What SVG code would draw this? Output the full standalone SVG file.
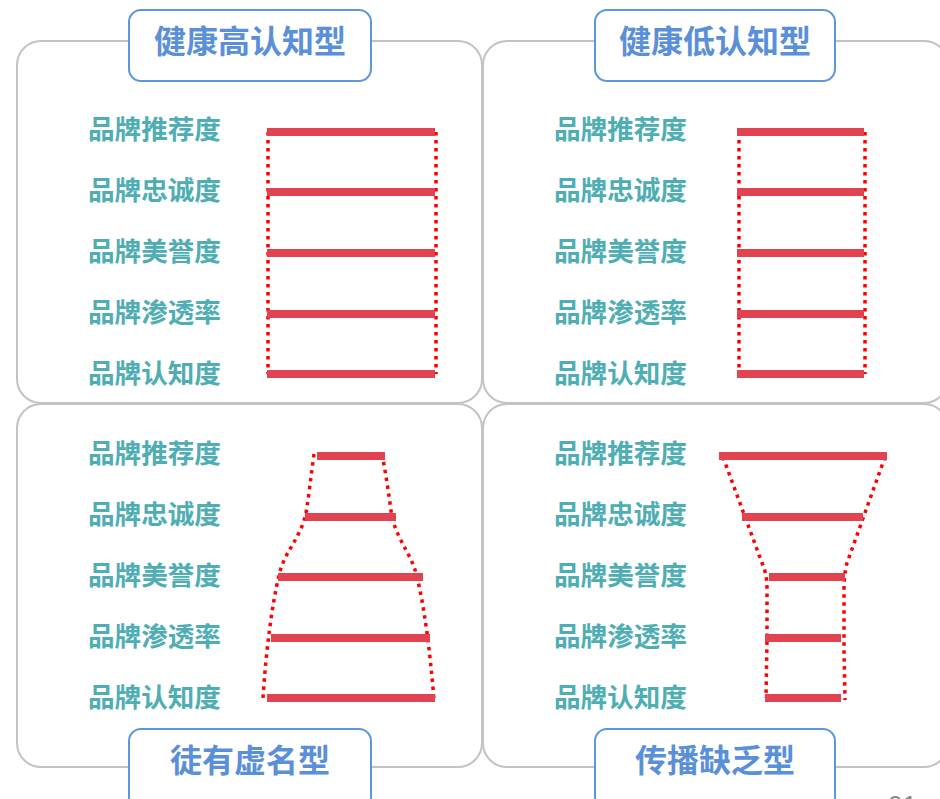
<svg xmlns="http://www.w3.org/2000/svg" width="940" height="799" viewBox="0 0 940 799">
<style>
.panel{fill:#fff;stroke:#c3c3c3;stroke-width:2}
.tbox{fill:#fff;stroke:#5b97dc;stroke-width:2}
.title{font-family:"Noto Sans CJK SC","Noto Sans",sans-serif;font-weight:bold;font-size:32px;fill:#5a8fd9;text-anchor:middle}
.lbl{font-family:"Noto Sans CJK SC","Noto Sans",sans-serif;font-weight:bold;font-size:26.6px;fill:#4eaeb3}
.bar{stroke:#e14450;stroke-width:8;fill:none}
.dot{stroke:#ff0000;stroke-width:3.5;stroke-dasharray:3.5 4.5;fill:none}
.pg{font-family:"Liberation Sans",sans-serif;font-size:26px;fill:#888}
</style>
<rect width="940" height="799" fill="#fff"/>
<g id="panel-tl"><rect class="panel" x="17" y="41" width="465" height="362" rx="24"/></g>
<g id="panel-tr"><rect class="panel" x="483" y="41" width="465" height="362" rx="24"/></g>
<g id="panel-bl"><rect class="panel" x="17" y="404" width="465" height="363" rx="24"/></g>
<g id="panel-br"><rect class="panel" x="483" y="404" width="465" height="363" rx="24"/></g>

<g id="title-tl"><rect class="tbox" x="129" y="10" width="242" height="71" rx="12"/><text class="title" x="250" y="53">健康高认知型</text></g>
<g id="title-tr"><rect class="tbox" x="595" y="10" width="240" height="71" rx="12"/><text class="title" x="715" y="53">健康低认知型</text></g>
<g id="title-bl"><rect class="tbox" x="129" y="729" width="242" height="80" rx="12"/><text class="title" x="250" y="772">徒有虚名型</text></g>
<g id="title-br"><rect class="tbox" x="595" y="729" width="240" height="80" rx="12"/><text class="title" x="715" y="772">传播缺乏型</text></g>

<g id="labels-tl">
<text class="lbl" x="88" y="139">品牌推荐度</text>
<text class="lbl" x="88" y="200">品牌忠诚度</text>
<text class="lbl" x="88" y="261">品牌美誉度</text>
<text class="lbl" x="88" y="322">品牌渗透率</text>
<text class="lbl" x="88" y="383">品牌认知度</text>
</g>
<g id="labels-tr">
<text class="lbl" x="554" y="139">品牌推荐度</text>
<text class="lbl" x="554" y="200">品牌忠诚度</text>
<text class="lbl" x="554" y="261">品牌美誉度</text>
<text class="lbl" x="554" y="322">品牌渗透率</text>
<text class="lbl" x="554" y="383">品牌认知度</text>
</g>
<g id="labels-bl">
<text class="lbl" x="88" y="463">品牌推荐度</text>
<text class="lbl" x="88" y="524">品牌忠诚度</text>
<text class="lbl" x="88" y="585">品牌美誉度</text>
<text class="lbl" x="88" y="646">品牌渗透率</text>
<text class="lbl" x="88" y="707">品牌认知度</text>
</g>
<g id="labels-br">
<text class="lbl" x="554" y="463">品牌推荐度</text>
<text class="lbl" x="554" y="524">品牌忠诚度</text>
<text class="lbl" x="554" y="585">品牌美誉度</text>
<text class="lbl" x="554" y="646">品牌渗透率</text>
<text class="lbl" x="554" y="707">品牌认知度</text>
</g>

<g id="connectors">
<path class="dot" d="M268 132 V374 M436 132 V374"/>
<path class="dot" d="M739 132 V374 M865 132 V374"/>
<path class="dot" d="M314 454 C311 475 309 495 306 513 C300 540 285 550 279 575 C272 605 266 650 263 698"/>
<path class="dot" d="M382 454 C386 475 389 495 392 518 C400 545 412 555 417 577 C424 605 430 650 434 700"/>
<path class="dot" d="M723 457 L762 563 C766 572 767 580 767 590 L767 640 L766 698"/>
<path class="dot" d="M885 457 L847 563 C845 570 844 580 844 590 L844 650 L845 700"/>
</g>

<g id="bars-tl">
<path class="bar" d="M267 132 H435 M267 192 H435 M267 253 H435 M267 314 H435 M267 374 H435"/>
</g>
<g id="bars-tr">
<path class="bar" d="M737 132 H864 M737 192 H864 M737 253 H864 M737 314 H864 M737 374 H864"/>
</g>
<g id="bars-bl">
<path class="bar" d="M317 456 H385 M305 517 H396 M278 577 H423 M271 638 H430 M267 698 H435"/>
</g>
<g id="bars-br">
<path class="bar" d="M719 456 H887 M742 517 H863 M769 577 H845 M765 638 H841 M765 698 H841"/>
</g>
<text class="pg" x="888" y="814">01</text>
</svg>
